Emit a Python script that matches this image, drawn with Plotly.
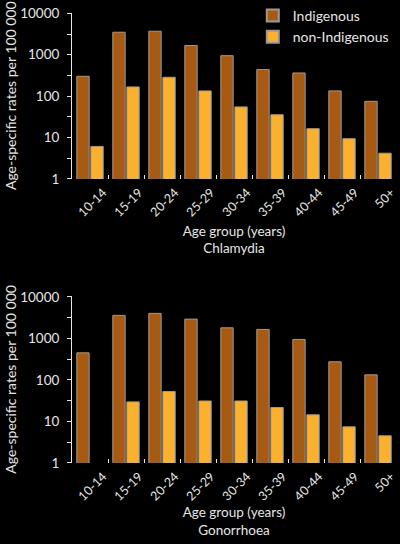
import plotly.graph_objects as go
from plotly.subplots import make_subplots

# Age groups and rates per 100 000
age_groups = ["10-14", "15-19", "20-24", "25-29", "30-34", "35-39", "40-44", "45-49", "50+"]

chlamydia_indigenous = [302, 3500, 3700, 1675, 950, 438, 363, 134, 75]
chlamydia_non_indigenous = [6.1, 167, 286, 134, 55, 35.6, 16.4, 9.4, 4.2]

gonorrhoea_indigenous = [447, 3565, 3980, 2900, 1790, 1637, 940, 272, 132]
gonorrhoea_non_indigenous = [None, 29.5, 52.5, 31, 31, 21.6, 14.4, 7.4, 4.5]

major_ticks = [1, 10, 100, 1000, 10000]
major_labels = ["1", "10", "100", "1000", "10000"]
minor_ticks = [3.162, 31.62, 316.2, 3162]

brown = "#a95a12"
orange = "#fbb02e"
text_colour = "#e6e6e6"
font_family = "Lato, Liberation Sans, sans-serif"

fig = make_subplots(rows=2, cols=1)

panels = [
    (1, chlamydia_indigenous, chlamydia_non_indigenous, True),
    (2, gonorrhoea_indigenous, gonorrhoea_non_indigenous, False),
]
for row, indig, non_indig, show in panels:
    fig.add_trace(go.Bar(x=age_groups, y=indig, name="Indigenous", marker_color=brown,
                         marker_line=dict(color="#9a9a9a", width=1), showlegend=show),
                  row=row, col=1)
    fig.add_trace(go.Bar(x=age_groups, y=non_indig, name="non-Indigenous", marker_color=orange,
                         marker_line=dict(color="#9a9a9a", width=1), showlegend=show),
                  row=row, col=1)

# Axis styling shared by both panels
fig.update_yaxes(
    type="log", range=[0, 4.02],
    tickvals=major_ticks, ticktext=major_labels,
    ticks="outside", ticklen=4, tickcolor=text_colour,
    minor=dict(tickvals=minor_ticks, ticks="outside", ticklen=4, tickcolor=text_colour),
    showline=True, linecolor=text_colour, linewidth=1,
    showgrid=False, zeroline=False,
    tickfont=dict(size=13.5, color=text_colour),
    ticklabelstandoff=5,
    title=dict(text="Age-specific rates per 100 000", font=dict(size=14, color=text_colour), standoff=0),
    automargin=False,
)
fig.update_xaxes(
    type="category", tickangle=-45, tickson="boundaries",
    ticks="inside", ticklen=4, tickcolor=text_colour,
    showline=False, showgrid=False, zeroline=False,
    tickfont=dict(size=12.5, color=text_colour),
    ticklabelshift=13, ticklabelstandoff=3,
    automargin=False,
    domain=[0.18, 0.99],
)
fig.update_xaxes(title=dict(text="Age group (years)<br>Chlamydia", font=dict(size=13.5, color=text_colour), standoff=7), row=1, col=1)
fig.update_xaxes(title=dict(text="Age group (years)<br>Gonorrhoea", font=dict(size=13.5, color=text_colour), standoff=5), row=2, col=1)

fig.update_layout(
    width=400, height=544,
    margin=dict(l=0, r=0, t=0, b=0),
    paper_bgcolor="black", plot_bgcolor="black",
    font=dict(family=font_family, color=text_colour),
    barmode="group", bargap=0.22, bargroupgap=0.12,
    yaxis=dict(domain=[0.671, 0.977]),
    yaxis2=dict(domain=[0.149, 0.456]),
    legend=dict(x=0.632, y=1.0, xanchor="left", yanchor="top",
                bgcolor="rgba(0,0,0,0)", font=dict(size=14, color=text_colour),
                itemsizing="constant", tracegroupgap=2),
)

# the page body has a default 8px margin; remove it so the figure fills the window
fig.write_html("out.html", config={"displayModeBar": False},
               post_script="document.body.style.margin='0';")
